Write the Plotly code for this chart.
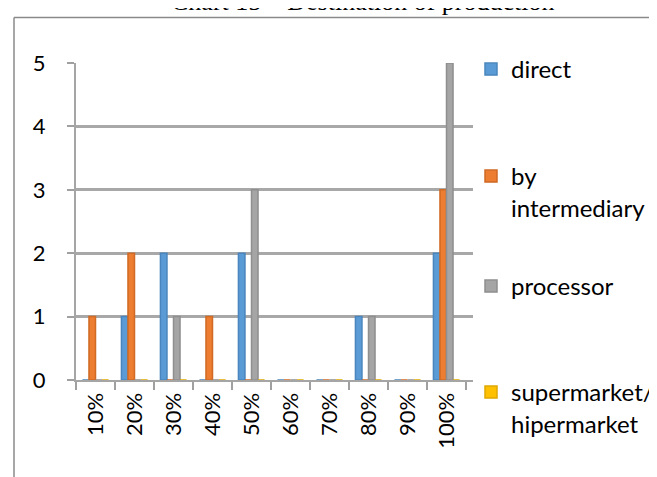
import plotly.graph_objects as go

categories = ["10%", "20%", "30%", "40%", "50%", "60%", "70%", "80%", "90%", "100%"]
direct = [0, 1, 2, 0, 2, 0, 0, 1, 0, 2]
by_intermediary = [1, 2, 0, 1, 0, 0, 0, 0, 0, 3]
processor = [0, 0, 1, 0, 3, 0, 0, 1, 0, 5]
supermarket = [0, 0, 0, 0, 0, 0, 0, 0, 0, 0]
series_names = ["direct", "by<br>intermediary", "processor", "supermarket/<br>hipermarket"]
y_ticks = [0, 1, 2, 3, 4, 5]
title_text = "Chart 15 – Destination of production"

colors = ["#5B9BD5", "#ED7D31", "#A5A5A5", "#FFC000"]
edges = ["#4a86bd", "#d06a24", "#8f8f8f", "#e0a800"]
legend_ids = ["legend", "legend2", "legend3", "legend4"]
legend_tops = [39, 146, 256, 362]

W, H = 657, 477
L, R_px, T, B_px = 68, 465, 55, 372

fig = go.Figure()
for i, (name, vals) in enumerate(zip(series_names, [direct, by_intermediary, processor, supermarket])):
    fig.add_trace(go.Bar(
        x=categories, y=vals, name=name,
        marker=dict(color=colors[i], line=dict(color=edges[i], width=1.5)),
        legend=legend_ids[i],
    ))

pw = R_px - L
ph = B_px - T
def px_x(p):
    return (p - L) / pw
def px_y(p):
    return (B_px - p) / ph

shapes = [
    dict(type="line", xref="paper", yref="paper", x0=px_x(6), x1=px_x(720), y0=px_y(9.5), y1=px_y(9.5),
         line=dict(color="#8a8a8a", width=1.5)),
    dict(type="line", xref="paper", yref="paper", x0=px_x(6), x1=px_x(6), y0=px_y(9.5), y1=px_y(520),
         line=dict(color="#8a8a8a", width=1.5)),
]

legend_common = dict(xref="container", yref="container", xanchor="left", yanchor="top",
                     valign="top", font=dict(size=24), itemwidth=30, bgcolor="rgba(0,0,0,0)")
legends = {}
for lid, top in zip(legend_ids, legend_tops):
    legends[lid] = dict(legend_common, x=463 / W, y=1 - top / H)

fig.update_layout(
    width=W, height=H,
    margin=dict(l=L, r=W - R_px, t=T, b=H - B_px, pad=0, autoexpand=False),
    paper_bgcolor="white", plot_bgcolor="white",
    barmode="group", bargap=0.33, bargroupgap=0,
    font=dict(family="Lato, Open Sans, sans-serif", size=22, color="black"),
    xaxis=dict(range=[-0.5, 9.5 + 7 / 39], tickangle=-90, ticks="outside", tickson="boundaries",
               ticklen=8, tickwidth=1.5, tickcolor="#a0a0a0", showline=True, linecolor="#a5a5a5",
               linewidth=2, showgrid=False, ticklabelstandoff=2, fixedrange=True),
    yaxis=dict(range=[0, 5], tickvals=y_ticks, ticks="outside", ticklen=7, tickwidth=1.5,
               tickcolor="#a0a0a0", showline=True, linecolor="#a5a5a5", linewidth=2,
               showgrid=True, gridcolor="#a8a8a8", gridwidth=2.5, zeroline=False,
               ticklabelstandoff=17, fixedrange=True),
    annotations=[dict(text=title_text, xref="paper", yref="paper", x=px_x(354), y=px_y(-7),
                      xanchor="center", yanchor="middle", showarrow=False,
                      font=dict(family="Liberation Serif, Times New Roman, serif", size=26, color="black"))],
    shapes=shapes,
    showlegend=True,
    **legends,
)

fig.write_html("out.html")
